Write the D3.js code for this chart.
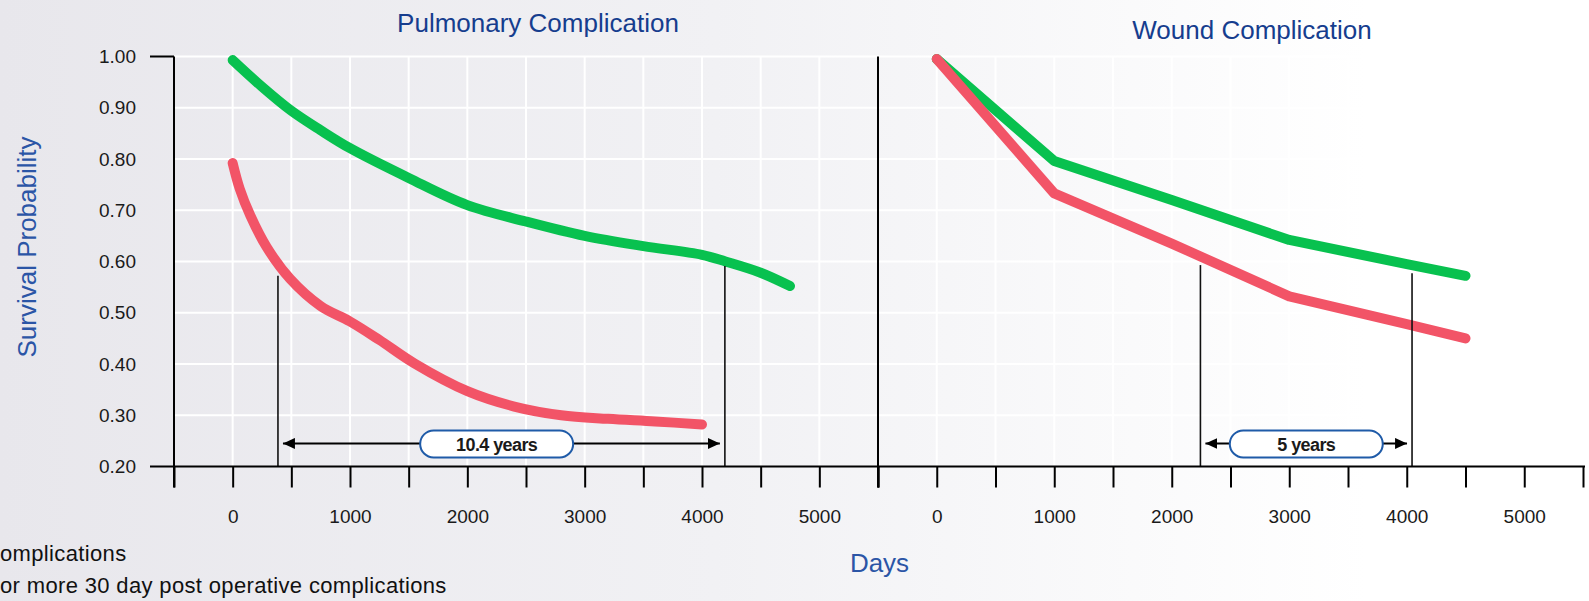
<!DOCTYPE html>
<html>
<head>
    <title>Survival by Complication</title>
    <script src="https://d3js.org/d3.v7.min.js"></script>
    <style>
        body {
            margin: 0;
            padding: 0;
            overflow: hidden;
        }
        svg text {
            font-family: 'Liberation Sans', Arial, Helvetica, sans-serif;
        }
        .grid line {
            stroke: #ffffff;
            stroke-width: 2px;
        }
        .curve {
            fill: none;
            stroke-width: 10px;
            stroke-linecap: round;
            stroke-linejoin: round;
        }
        .tick-label {
            font-size: 19px;
            fill: #1a1a1a;
        }
        .panel-title {
            font-size: 26px;
            fill: #163d8e;
        }
        .axis-title {
            font-size: 26px;
            fill: #2b55a6;
        }
        .legend-text {
            font-size: 22px;
            letter-spacing: 0.35px;
            fill: #111;
        }
        .span-label {
            font-size: 18px;
            font-weight: bold;
            letter-spacing: -0.6px;
            fill: #1a1a1a;
        }
    </style>
</head>
<body>
<div id="chart"></div>
<script>
    // ---- data ----
    const dayTicks = [-500, 0, 500, 1000, 1500, 2000, 2500, 3000, 3500, 4000, 4500, 5000, 5500];
    const dayLabels = [0, 1000, 2000, 3000, 4000, 5000];
    const probTicks = [0.2, 0.3, 0.4, 0.5, 0.6, 0.7, 0.8, 0.9, 1.0];

    const panelTitles = ["Pulmonary Complication", "Wound Complication"];

    // pulmonary complication
    const pulmNoneDays = [0, 250, 500, 750, 1000, 1500, 2000, 2500, 3000, 3500, 4000, 4200, 4500, 4750];
    const pulmNoneProb = [0.993, 0.941, 0.894, 0.856, 0.821, 0.763, 0.710, 0.678, 0.650, 0.630, 0.613, 0.600, 0.578, 0.552];
    const pulmCompDays = [0, 60, 150, 290, 490, 750, 1000, 1250, 1550, 2000, 2400, 2800, 3200, 3600, 4000];
    const pulmCompProb = [0.792, 0.742, 0.690, 0.628, 0.566, 0.513, 0.483, 0.447, 0.401, 0.347, 0.317, 0.300, 0.293, 0.288, 0.282];

    // wound complication
    const woundNoneDays = [0, 1000, 2000, 3000, 4000, 4500];
    const woundNoneProb = [0.995, 0.796, 0.720, 0.642, 0.595, 0.572];
    const woundCompDays = [0, 1000, 2000, 3000, 4000, 4500];
    const woundCompProb = [0.995, 0.733, 0.635, 0.532, 0.478, 0.450];

    // median survival gap annotations
    const pulmSpanDays = [386, 4195];
    const pulmSpanTop = [0.572, 0.591];
    const woundSpanDays = [2244, 4045];
    const woundSpanTop = [0.593, 0.577];
    const spanLabels = ["10.4 years", "5 years"];
    const spanLabelDays = [2250, 3145];
    const spanArrowProb = 0.245;

    // legend text as visible at the left edge of the picture
    const legendLabels = ["omplications", "or more 30 day post operative complications"];

    const colNone = "#08c14f";
    const colComp = "#f25467";

    // ---- layout ----
    const W = 1589, H = 601;

    const svg = d3.select("#chart")
        .append("svg")
            .attr("width", W)
            .attr("height", H);

    const defs = svg.append("defs");
    const grad = defs.append("linearGradient")
        .attr("id", "bg")
        .attr("x1", "0%").attr("x2", "100%")
        .attr("y1", "0%").attr("y2", "0%");
    grad.append("stop").attr("offset", "0%").attr("stop-color", "#e8e7ec");
    grad.append("stop").attr("offset", "45%").attr("stop-color", "#f1f1f4");
    grad.append("stop").attr("offset", "86%").attr("stop-color", "#ffffff");

    svg.append("rect")
        .attr("width", W).attr("height", H)
        .attr("fill", "url(#bg)");

    const y = d3.scaleLinear()
        .domain([0.2, 1.0])
        .range([466.5, 56.5]);

    const xs = [
        d3.scaleLinear().domain([-500, 5500]).range([174, 878]),
        d3.scaleLinear().domain([-500, 5500]).range([878, 1583])
    ];

    const series = [
        [
            {days: pulmNoneDays, prob: pulmNoneProb, color: colNone, curve: d3.curveCatmullRom.alpha(0.5)},
            {days: pulmCompDays, prob: pulmCompProb, color: colComp, curve: d3.curveCatmullRom.alpha(0.5)}
        ],
        [
            {days: woundNoneDays, prob: woundNoneProb, color: colNone, curve: d3.curveLinear},
            {days: woundCompDays, prob: woundCompProb, color: colComp, curve: d3.curveLinear}
        ]
    ];

    const spans = [
        {days: pulmSpanDays, top: pulmSpanTop, label: spanLabels[0], labelDay: spanLabelDays[0]},
        {days: woundSpanDays, top: woundSpanTop, label: spanLabels[1], labelDay: spanLabelDays[1]}
    ];

    // arrow marker
    defs.append("marker")
        .attr("id", "arrow")
        .attr("viewBox", "0 0 12 11")
        .attr("refX", 12).attr("refY", 5.5)
        .attr("markerUnits", "userSpaceOnUse")
        .attr("markerWidth", 12).attr("markerHeight", 11)
        .attr("orient", "auto-start-reverse")
        .append("path")
            .attr("d", "M0,0 L12,5.5 L0,11 Z")
            .attr("fill", "#000");

    const axisY = y(0.2);

    xs.forEach(function(x, p) {
        const g = svg.append("g");

        // grid
        const grid = g.append("g").attr("class", "grid");
        grid.selectAll(".gv")
            .data(dayTicks.filter(d => d > -500 && d < 5500))
            .enter().append("line")
                .attr("x1", d => x(d)).attr("x2", d => x(d))
                .attr("y1", y(1.0)).attr("y2", axisY);
        grid.selectAll(".gh")
            .data(probTicks.filter(d => d > 0.2))
            .enter().append("line")
                .attr("x1", x(-500)).attr("x2", x(5500))
                .attr("y1", d => y(d)).attr("y2", d => y(d));

        // curves
        series[p].forEach(function(s) {
            const pts = s.days.map((d, i) => [d, s.prob[i]]);
            g.append("path")
                .datum(pts)
                .attr("class", "curve")
                .attr("stroke", s.color)
                .attr("d", d3.line()
                    .x(d => x(d[0]))
                    .y(d => y(d[1]))
                    .curve(s.curve));
        });

        // x ticks
        const xAxis = d3.axisBottom(x)
            .tickValues(dayTicks)
            .tickSize(21)
            .tickPadding(22)
            .tickFormat(d => dayLabels.includes(d) ? d : "");
        const ax = g.append("g")
            .attr("transform", "translate(0," + axisY + ")")
            .call(xAxis);
        ax.select(".domain").remove();
        ax.selectAll(".tick line")
            .attr("stroke", "#000")
            .attr("stroke-width", 2);
        ax.selectAll(".tick text")
            .attr("class", "tick-label")
            .attr("fill", null)
            .style("font-size", "19px");
        ax.attr("font-size", null).attr("font-family", null);

        // vertical axis / divider
        g.append("line")
            .attr("x1", x(-500)).attr("x2", x(-500))
            .attr("y1", y(1.0)).attr("y2", axisY + 21)
            .attr("stroke", "#000")
            .attr("stroke-width", 2);

        // title
        g.append("text")
            .attr("class", "panel-title")
            .attr("x", p === 0 ? 538 : 1252)
            .attr("y", p === 0 ? 32 : 39)
            .attr("text-anchor", "middle")
            .text(panelTitles[p]);

        // span annotation
        const sp = spans[p];
        sp.days.forEach(function(d, i) {
            g.append("line")
                .attr("x1", x(d)).attr("x2", x(d))
                .attr("y1", y(sp.top[i])).attr("y2", axisY)
                .attr("stroke", "#111")
                .attr("stroke-width", 1.6);
        });
        const ay = y(spanArrowProb);
        g.append("line")
            .attr("x1", x(sp.days[0]) + 5).attr("x2", x(sp.days[1]) - 5)
            .attr("y1", ay).attr("y2", ay)
            .attr("stroke", "#000")
            .attr("stroke-width", 2)
            .attr("marker-start", "url(#arrow)")
            .attr("marker-end", "url(#arrow)");
        const bw = 153, bh = 27;
        const cx = x(sp.labelDay);
        g.append("rect")
            .attr("x", cx - bw / 2).attr("y", ay - bh / 2 + 0.5)
            .attr("width", bw).attr("height", bh)
            .attr("rx", bh / 2).attr("ry", bh / 2)
            .attr("fill", "#fff")
            .attr("stroke", "#1f5ba8")
            .attr("stroke-width", 2);
        g.append("text")
            .attr("class", "span-label")
            .attr("x", cx).attr("y", ay + 1)
            .attr("dy", "0.36em")
            .attr("text-anchor", "middle")
            .text(sp.label);
    });

    // x axis baseline
    svg.append("line")
        .attr("x1", 150).attr("x2", 1585)
        .attr("y1", axisY).attr("y2", axisY)
        .attr("stroke", "#000")
        .attr("stroke-width", 2);

    // y axis labels
    const yAxis = d3.axisLeft(y)
        .tickValues(probTicks)
        .tickSize(0)
        .tickPadding(38)
        .tickFormat(d3.format(".2f"));
    const yg = svg.append("g")
        .attr("transform", "translate(" + xs[0](-500) + ",0)")
        .call(yAxis);
    yg.select(".domain").remove();
    yg.selectAll(".tick text")
        .attr("class", "tick-label")
        .attr("fill", null)
        .style("font-size", "19px");
    yg.attr("font-size", null).attr("font-family", null);

    svg.append("line")
        .attr("x1", 150).attr("x2", xs[0](-500))
        .attr("y1", y(1.0)).attr("y2", y(1.0))
        .attr("stroke", "#000")
        .attr("stroke-width", 2);

    // axis titles
    svg.append("text")
        .attr("class", "axis-title")
        .attr("transform", "translate(36," + 247 + ") rotate(-90)")
        .attr("text-anchor", "middle")
        .text("Survival Probability");

    svg.append("text")
        .attr("class", "axis-title")
        .attr("x", 879.5)
        .attr("y", 572)
        .attr("text-anchor", "middle")
        .text("Days");

    // legend
    svg.append("text")
        .attr("class", "legend-text")
        .attr("x", 0).attr("y", 561)
        .text(legendLabels[0]);
    svg.append("text")
        .attr("class", "legend-text")
        .attr("x", 0).attr("y", 593)
        .text(legendLabels[1]);
</script>
</body>
</html>
